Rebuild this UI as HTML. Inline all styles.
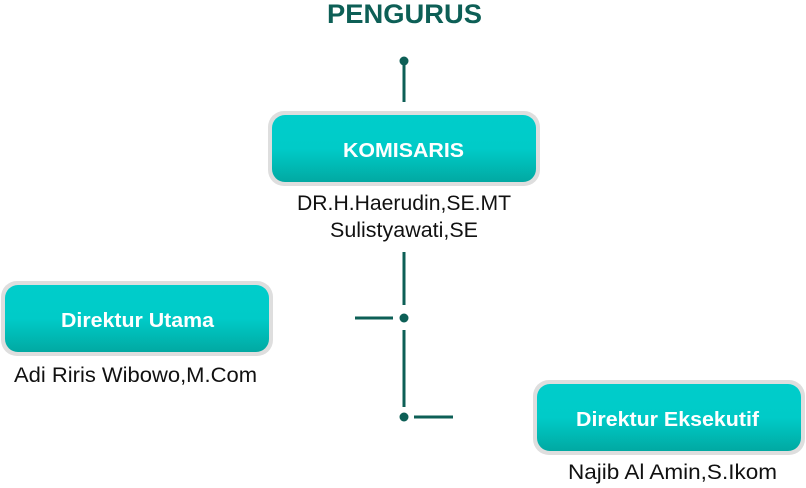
<!DOCTYPE html>
<html><head><meta charset="utf-8"><style>
html,body{margin:0;padding:0;background:#fff;}
svg{display:block;}
</style></head><body>
<svg width="806" height="488" viewBox="0 0 806 488" xmlns="http://www.w3.org/2000/svg">
<defs>
<linearGradient id="g" x1="0" y1="0" x2="0" y2="1">
<stop offset="0" stop-color="#00cdcb"/>
<stop offset="0.5" stop-color="#00cbc8"/>
<stop offset="1" stop-color="#01a9a2"/>
</linearGradient>
</defs>
<text x="327" y="23" textLength="155" lengthAdjust="spacingAndGlyphs" font-family="Liberation Sans, sans-serif" font-weight="bold" font-size="27" fill="#0d5f56">PENGURUS</text>
<g stroke="#0d5f56" stroke-width="3" fill="none">
<line x1="404" y1="61" x2="404" y2="102"/>
<line x1="404" y1="252" x2="404" y2="305"/>
<line x1="355" y1="318" x2="393" y2="318"/>
<line x1="404" y1="330" x2="404" y2="407"/>
<line x1="414" y1="417" x2="453" y2="417"/>
</g>
<g fill="#0d5f56">
<circle cx="404" cy="61" r="4.5"/>
<circle cx="404" cy="318" r="4.5"/>
<circle cx="404" cy="417" r="4.5"/>
</g>
<g font-family="Liberation Sans, sans-serif" font-weight="bold" font-size="20" fill="#fff" lengthAdjust="spacingAndGlyphs">
<rect x="268" y="111" width="272" height="75" rx="16" fill="#dedede"/>
<rect x="272" y="115" width="264" height="67" rx="13" fill="url(#g)"/>
<text x="343" y="157" textLength="121" lengthAdjust="spacingAndGlyphs">KOMISARIS</text>
<rect x="1" y="281" width="272" height="75" rx="16" fill="#dedede"/>
<rect x="5" y="285" width="264" height="67" rx="13" fill="url(#g)"/>
<text x="61" y="327" textLength="153" lengthAdjust="spacingAndGlyphs">Direktur Utama</text>
<rect x="533" y="380" width="272" height="75" rx="16" fill="#dedede"/>
<rect x="537" y="384" width="264" height="67" rx="13" fill="url(#g)"/>
<text x="576" y="426" textLength="183" lengthAdjust="spacingAndGlyphs">Direktur Eksekutif</text>
</g>
<g font-family="Liberation Sans, sans-serif" font-size="21" fill="#111">
<text x="297" y="210" textLength="214" lengthAdjust="spacingAndGlyphs">DR.H.Haerudin,SE.MT</text>
<text x="330" y="237" textLength="148" lengthAdjust="spacingAndGlyphs">Sulistyawati,SE</text>
<text x="14" y="382" textLength="243" lengthAdjust="spacingAndGlyphs">Adi Riris Wibowo,M.Com</text>
<text x="568" y="479" textLength="209" lengthAdjust="spacingAndGlyphs">Najib Al Amin,S.Ikom</text>
</g>
</svg>
</body></html>
